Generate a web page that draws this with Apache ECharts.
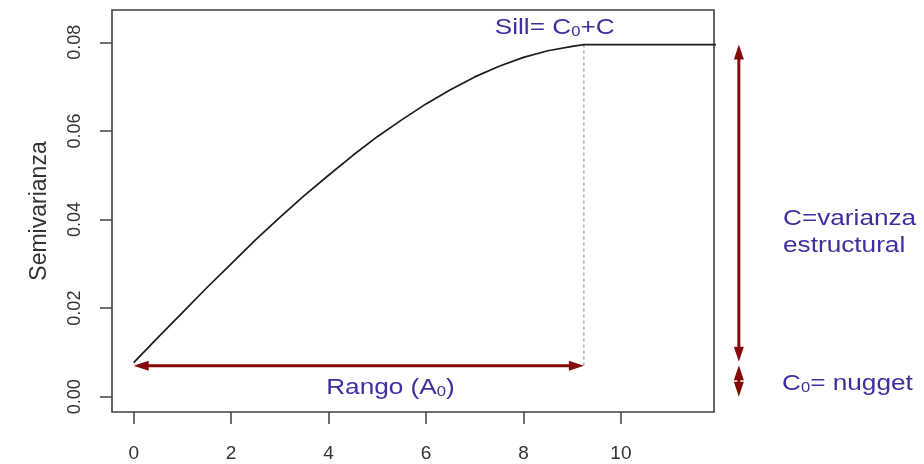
<!DOCTYPE html>
<html>
<head>
<meta charset="utf-8">
<script src="https://cdn.jsdelivr.net/npm/echarts@6/dist/echarts.min.js"></script>
<style>
  html, body { margin: 0; padding: 0; background: #ffffff; }
  #chart { width: 924px; height: 464px; }
</style>
</head>
<body>
<div id="chart"></div>
<script>
// Lag distance and semivariance of the fitted model curve
const lagDistance = [0, 0.5, 1, 1.5, 2, 2.5, 3, 3.5, 4, 4.5, 5, 5.5, 6, 6.5, 7, 7.5, 8, 8.5, 9, 9.24, 12.5];
const semivariance = [0.0077, 0.0134, 0.0190, 0.0246, 0.0300, 0.0354, 0.0405, 0.0454, 0.0500, 0.0545,
                      0.0587, 0.0625, 0.0661, 0.0693, 0.0722, 0.0746, 0.0766, 0.0781, 0.0791, 0.0795, 0.0795];

// Model parameters marked on the plot
const nuggetC0 = 0.0075;   // C0
const sillValue = 0.0795;  // C0 + C
const rangeA0 = 9.24;      // A0
const rangeArrowLevel = 0.007;

// Axis tick values
const xTicks = [0, 2, 4, 6, 8, 10];
const yTicks = [0, 0.02, 0.04, 0.06, 0.08];

const FONT = "'Liberation Sans', Arial, Helvetica, sans-serif";
const AXIS_COLOR = '#404040';
const NOTE_COLOR = '#3d2f9f';
const ARROW_COLOR = '#860909';
const ARROW_X = 12.42;     // horizontal place of the vertical arrows, right of the frame

const chart = echarts.init(document.getElementById('chart'), null, { renderer: 'canvas' });

// Double-headed arrows: [x1, y1, x2, y2]
const arrows = [
  [0, rangeArrowLevel, rangeA0, rangeArrowLevel],
  [ARROW_X, sillValue, ARROW_X, nuggetC0 + 0.0004],
  [ARROW_X, nuggetC0 - 0.0004, ARROW_X, 0]
];

function renderArrow(params, api) {
  const a = api.coord([api.value(0), api.value(1)]);
  const b = api.coord([api.value(2), api.value(3)]);
  const dx = b[0] - a[0], dy = b[1] - a[1];
  const len = Math.hypot(dx, dy);
  const ux = dx / len, uy = dy / len;
  const px = -uy, py = ux;
  const L = 15, W = 5;
  const head = (tip, dir) => [
    [tip[0], tip[1]],
    [tip[0] + dir * L * ux + W * px, tip[1] + dir * L * uy + W * py],
    [tip[0] + dir * L * ux - W * px, tip[1] + dir * L * uy - W * py]
  ];
  return {
    type: 'group',
    children: [
      {
        type: 'line',
        shape: { x1: a[0] + ux * 6, y1: a[1] + uy * 6, x2: b[0] - ux * 6, y2: b[1] - uy * 6 },
        style: { stroke: ARROW_COLOR, lineWidth: 3 }
      },
      { type: 'polygon', shape: { points: head(a, 1) }, style: { fill: ARROW_COLOR } },
      { type: 'polygon', shape: { points: head(b, -1) }, style: { fill: ARROW_COLOR } }
    ]
  };
}

chart.setOption({
  animation: false,
  backgroundColor: '#ffffff',
  textStyle: { fontFamily: FONT },
  grid: {
    left: 112, top: 10, right: 210, bottom: 52,
    show: true, borderColor: AXIS_COLOR, borderWidth: 1.6,
    containLabel: false, outerBoundsMode: 'none'
  },
  xAxis: {
    type: 'value',
    min: -0.445, max: 11.91,
    axisLine: { show: false, onZero: false },
    splitLine: { show: false },
    axisTick: { show: true, inside: false, length: 12, customValues: xTicks,
                lineStyle: { color: AXIS_COLOR, width: 1.5 } },
    axisLabel: { show: true, customValues: xTicks, margin: 32, fontSize: 19,
                 color: '#333333', fontFamily: FONT }
  },
  yAxis: {
    type: 'value',
    min: -0.00345, max: 0.0873,
    name: 'Semivarianza',
    nameLocation: 'middle',
    nameGap: 61,
    nameRotate: 90,
    nameTextStyle: { fontSize: 23, color: '#333333', fontFamily: FONT },
    axisLine: { show: false, onZero: false },
    splitLine: { show: false },
    axisTick: { show: true, inside: false, length: 12, customValues: yTicks,
                lineStyle: { color: AXIS_COLOR, width: 1.5 } },
    axisLabel: { show: true, customValues: yTicks, rotate: 90, margin: 28, fontSize: 18,
                 color: '#333333', fontFamily: FONT,
                 formatter: v => v.toFixed(2) }
  },
  series: [
    {
      name: 'modelo',
      type: 'line',
      data: lagDistance.map((x, i) => [x, semivariance[i]]),
      showSymbol: false,
      smooth: false,
      silent: true,
      lineStyle: { color: '#1c1c1c', width: 1.7 },
      z: 3
    },
    {
      name: 'rango',
      type: 'line',
      data: [[rangeA0, sillValue], [rangeA0, rangeArrowLevel]],
      showSymbol: false,
      silent: true,
      lineStyle: { color: '#808080', width: 1, type: [3, 3] },
      z: 2
    },
    {
      name: 'flechas',
      type: 'custom',
      data: arrows,
      clip: false,
      silent: true,
      renderItem: renderArrow,
      z: 4
    }
  ]
});

// Text notes placed relative to the model parameters
const toPx = (x, y) => chart.convertToPixel({ gridIndex: 0 }, [x, y]);
const sillPx = toPx(8.64, sillValue);
const rangePx = toPx(5.27, rangeArrowLevel);
const structPx = toPx(ARROW_X, 0.0431);
const nuggetPx = toPx(ARROW_X, nuggetC0);

const mainStyle = { fontSize: 22, lineHeight: 26, fill: NOTE_COLOR, fontFamily: FONT, verticalAlign: 'bottom' };
const subStyle = { fontSize: 14, lineHeight: 20, fill: NOTE_COLOR, fontFamily: FONT, verticalAlign: 'bottom' };
const STRETCH = 1.19;

chart.setOption({
  graphic: [
    {
      type: 'text', x: sillPx[0], y: sillPx[1] - 5.5, scaleX: STRETCH, silent: true,
      style: { text: '{m|Sill= C}{s|0}{m|+C}', rich: { m: mainStyle, s: subStyle },
               align: 'center', verticalAlign: 'bottom' }
    },
    {
      type: 'text', x: rangePx[0], y: rangePx[1] + 7.3, scaleX: STRETCH, silent: true,
      style: { text: '{m|Rango (A}{s|0}{m|)}', rich: { m: mainStyle, s: subStyle },
               align: 'center', verticalAlign: 'top' }
    },
    {
      type: 'text', x: 783, y: structPx[1] + 27, scaleX: STRETCH, silent: true,
      style: { text: 'C=varianza\nestructural', fontSize: 22, lineHeight: 27, fill: NOTE_COLOR,
               fontFamily: FONT, align: 'left', verticalAlign: 'middle' }
    },
    {
      type: 'text', x: 782, y: nuggetPx[1] + 5.5, scaleX: STRETCH, silent: true,
      style: { text: '{m|C}{s|0}{m|= nugget}', rich: { m: mainStyle, s: subStyle },
               align: 'left', verticalAlign: 'top' }
    }
  ]
});
</script>
</body>
</html>
